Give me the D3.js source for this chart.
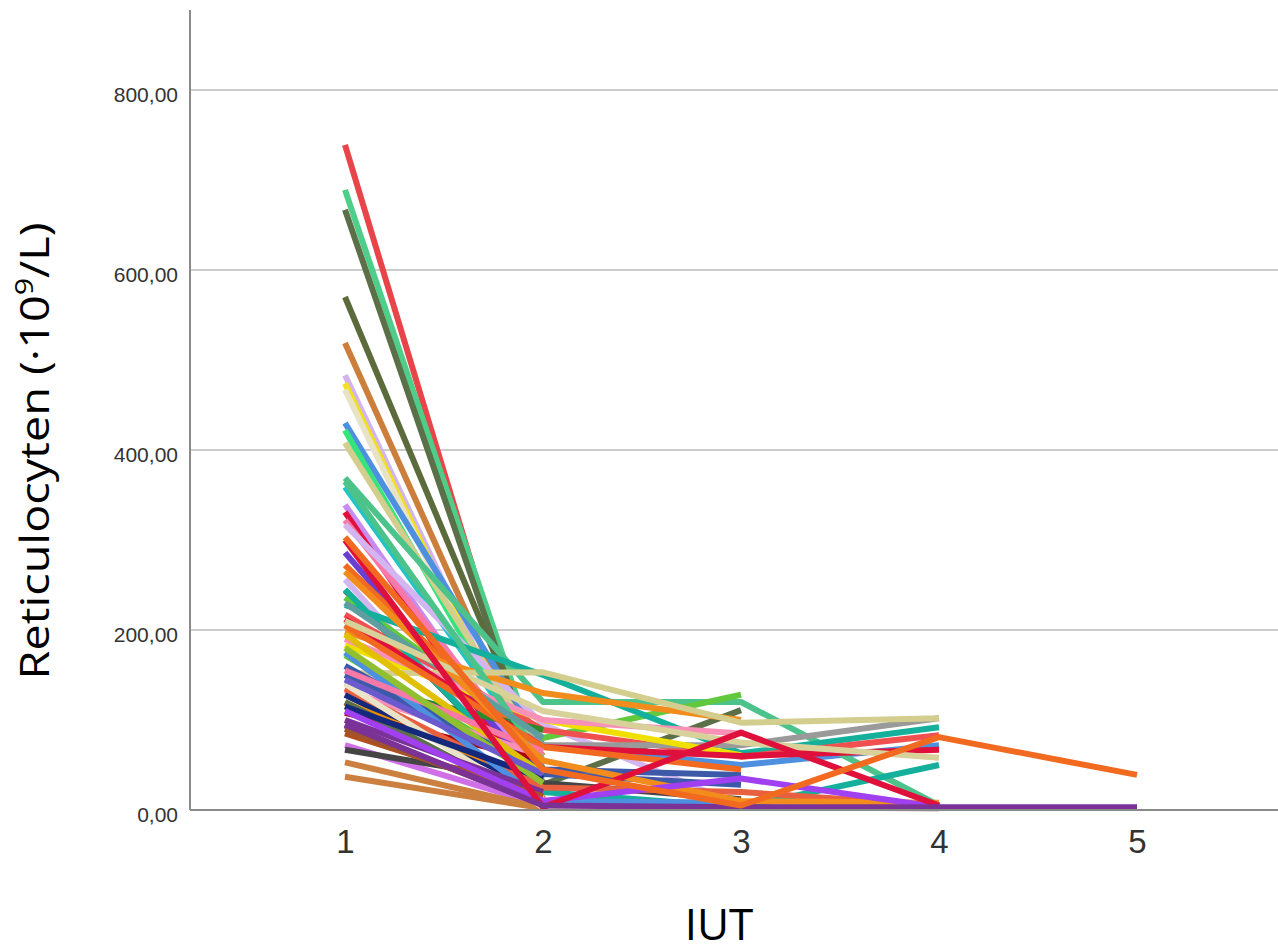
<!DOCTYPE html>
<html>
<head>
<meta charset="utf-8">
<script src="https://cdn.jsdelivr.net/npm/d3@7"></script>
<style>
  body { margin: 0; background: #fff; }
</style>
</head>
<body>
<div id="chart"></div>
<script>
var iut = [1, 2, 3, 4, 5];
var yTicks = [0, 200, 400, 600, 800];

// one row per patient: reticulocytes (10^9/L) at IUT 1, 2, 3, ...
var reticulocyten = [
    [739, 12],
    [689, 40],
    [667, 28, 111],
    [570, 45],
    [519, 30],
    [483, 20],
    [474, 15],
    [467, 10],
    [430, 72, 50, 72],
    [422, 35],
    [408, 60],
    [369, 120, 120, 5],
    [359, 50],
    [339, 25],
    [331, 5],
    [322, 40],
    [317, 95, 5],
    [286, 30],
    [272, 60],
    [256, 15],
    [244, 20],
    [236, 80, 128],
    [228, 150, 63, 92],
    [217, 89, 59, 83],
    [206, 72, 72, 102],
    [198, 130, 100],
    [183, 100, 61],
    [172, 40],
    [152, 153, 97, 102],
    [141, 89],
    [133, 60],
    [128, 20],
    [119, 30],
    [108, 55],
    [94, 5],
    [72, 5],
    [67, 30, 12],
    [53, 2],
    [37, 2],
    [150, 45, 39],
    [160, 40, 28],
    [245, 20, 3, 50],
    [190, 100, 85],
    [135, 25, 20, 5],
    [120, 5, 3, 2],
    [140, 3, 3],
    [175, 10, 8],
    [212, 70, 60, 67],
    [365, 55],
    [195, 40],
    [205, 70, 45],
    [155, 65],
    [115, 35],
    [180, 30],
    [100, 20],
    [85, 15],
    [145, 40],
    [230, 80],
    [90, 8],
    [265, 55, 10, 8],
    [110, 10, 35, 3],
    [210, 110, 75, 58],
    [300, 3, 86, 5],
    [95, 5, 3, 3, 3],
    [303, 45, 5, 81, 39]
];

var lineColors = [
    "#e8454a", "#4fce8a", "#5b7048", "#5b6b3c", "#cc7f3c", "#d4b4f0", "#f0e020", "#e8e2c6",
    "#4e90e0", "#35e47c", "#d3cd8e", "#4cc38a", "#22c4c8", "#c68cf0", "#e0103c", "#f878a8",
    "#d3b5ef", "#6a3ed0", "#f26a20", "#d3b5ef", "#5b7048", "#62c83e", "#14b09c", "#f05050",
    "#9a9a9a", "#f28c1c", "#f0e000", "#62c83e", "#d3cd8e", "#2c8a2c", "#f890b8", "#14287c",
    "#f08c00", "#a8000c", "#7a3296", "#d070e8", "#454545", "#cc8040", "#cc8040", "#3c5aa8",
    "#3c5aa8", "#14b09c", "#f890b8", "#e86040", "#5b7048", "#eae3c8", "#4e90e0", "#e0103c",
    "#4cc38a", "#e0c000", "#f26a20", "#f878a8", "#14287c", "#90c030", "#7a3296", "#b05020",
    "#6a5acd", "#5f9ea0", "#a0522d", "#f28c1c", "#a040f0", "#d8d29a", "#e0103c", "#7a3296",
    "#f26a20"
];

var width = 1278, height = 952;

var x = d3.scaleLinear().domain([1, 5]).range([345, 1137]);
var y = d3.scaleLinear().domain([0, 800]).range([810, 90]);

var svg = d3.select("#chart").append("svg")
    .attr("width", width)
    .attr("height", height)
    .style("display", "block");

// gridlines
svg.append("g")
    .selectAll("line")
    .data(yTicks.filter(d => d > 0))
    .join("line")
    .attr("x1", 190).attr("x2", width)
    .attr("y1", d => y(d)).attr("y2", d => y(d))
    .attr("stroke", "#cccccc")
    .attr("stroke-width", 2);

// patient lines
var line = d3.line()
    .x((d, i) => x(iut[i]))
    .y(d => y(d));

svg.append("g")
    .selectAll("path")
    .data(reticulocyten)
    .join("path")
    .attr("d", line)
    .attr("fill", "none")
    .attr("stroke", (d, i) => lineColors[i % lineColors.length])
    .attr("stroke-width", 6)
    .attr("stroke-linejoin", "round");

// axes lines
svg.append("line")
    .attr("x1", 190).attr("x2", 190)
    .attr("y1", 10).attr("y2", y(0))
    .attr("stroke", "#8a8a8a").attr("stroke-width", 2);
svg.append("line")
    .attr("x1", 190).attr("x2", width)
    .attr("y1", y(0)).attr("y2", y(0))
    .attr("stroke", "#8a8a8a").attr("stroke-width", 2);

var fmt = d => d3.format(".2f")(d).replace(".", ",");

var yAxis = svg.append("g")
    .attr("transform", "translate(190,0)")
    .call(d3.axisLeft(y).tickValues(yTicks).tickSize(0).tickPadding(12).tickFormat(fmt));
yAxis.select(".domain").remove();
yAxis.selectAll("text")
    .attr("dy", "0.56em")
    .style("font-family", "'Liberation Sans', Arial, sans-serif")
    .style("font-size", "21px")
    .style("fill", "#333");

var xAxis = svg.append("g")
    .attr("transform", "translate(0," + y(0) + ")")
    .call(d3.axisBottom(x).tickValues(iut).tickSize(0).tickPadding(20).tickFormat(d3.format("d")));
xAxis.select(".domain").remove();
xAxis.selectAll("text")
    .style("font-family", "'Liberation Sans', Arial, sans-serif")
    .style("font-size", "33px")
    .style("fill", "#333");

// titles
var yTitle = svg.append("text")
    .attr("transform", "translate(49,451) rotate(-90)")
    .attr("text-anchor", "middle")
    .attr("textLength", 457)
    .attr("lengthAdjust", "spacingAndGlyphs")
    .style("font-family", "'Open Sans', sans-serif")
    .style("font-size", "40px")
    .style("fill", "#000");
yTitle.append("tspan").text("Reticulocyten (\u00b710");
yTitle.append("tspan").attr("dy", -16).style("font-size", "26px").text("9");
yTitle.append("tspan").attr("dy", 16).text("/L)");

svg.append("text")
    .attr("x", 719)
    .attr("y", 940)
    .attr("text-anchor", "middle")
    .style("font-family", "'Open Sans', sans-serif")
    .style("font-size", "44px")
    .style("fill", "#000")
    .text("IUT");
</script>
</body>
</html>
